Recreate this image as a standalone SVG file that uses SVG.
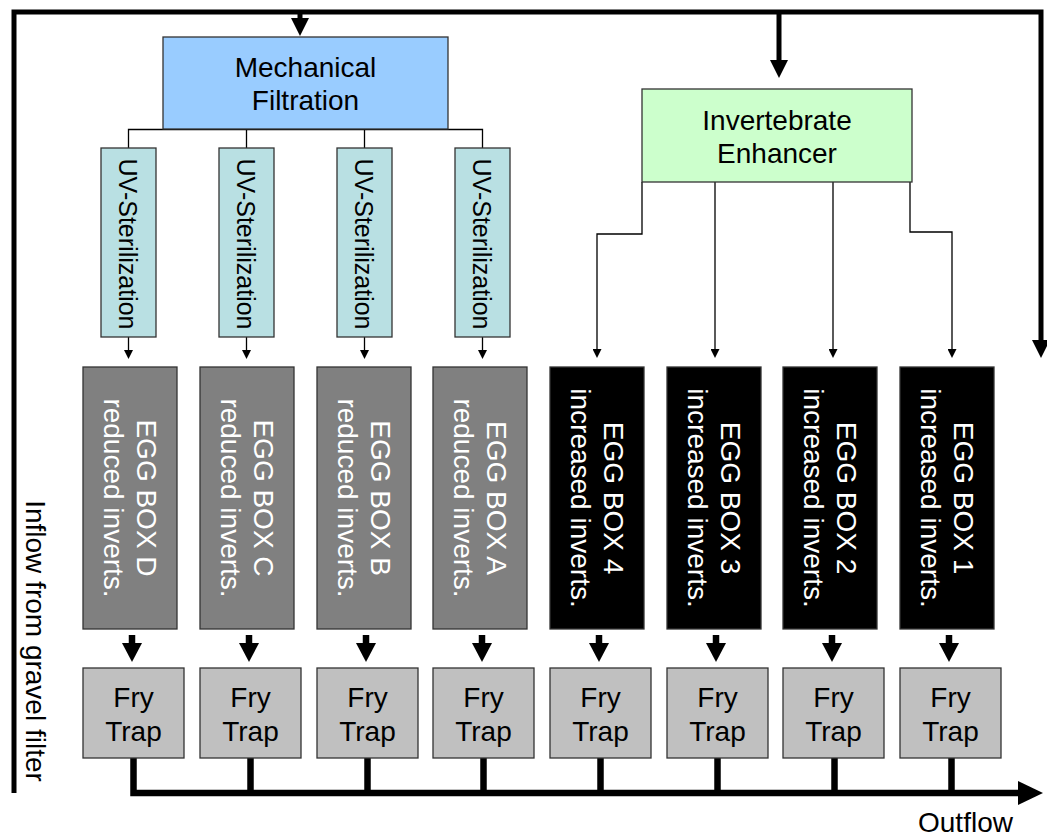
<svg xmlns="http://www.w3.org/2000/svg" width="1047" height="837" viewBox="0 0 1047 837">
<style>
text{font-family:"Liberation Sans",Arial,Helvetica,sans-serif;font-size:28px;fill:#000}
.c{text-anchor:middle}
.w{fill:#fff}
.uvt{font-size:25px}
.mech{fill:#99CCFF;stroke:#333;stroke-width:1.3}
.inv{fill:#CCFFCC;stroke:#333;stroke-width:1.3}
.uv{fill:#B9E0E3;stroke:#333;stroke-width:1.3}
.eggr{fill:#808080;stroke:#333;stroke-width:1.3}
.eggi{fill:#000;stroke:#333;stroke-width:1.3}
.fry{fill:#C0C0C0;stroke:#333;stroke-width:1.3}
.thin{fill:none;stroke:#000;stroke-width:1.3}
.frame{fill:none;stroke:#000;stroke-width:5;stroke-linejoin:miter}
.fat{fill:none;stroke:#000;stroke-width:6.5}
</style>
<defs>
<marker id="ah-thin" markerUnits="userSpaceOnUse" markerWidth="9" markerHeight="9" refX="0" refY="4.5" orient="auto"><path d="M0,0 L9,4.5 L0,9 z" fill="#000"/></marker>
<marker id="ah-big" markerUnits="userSpaceOnUse" markerWidth="18" markerHeight="18" refX="0" refY="9" orient="auto"><path d="M0,0 L18,9 L0,18 z" fill="#000"/></marker>
<marker id="ah-fat" markerUnits="userSpaceOnUse" markerWidth="19" markerHeight="20" refX="0" refY="10" orient="auto"><path d="M0,0 L19,10 L0,20 z" fill="#000"/></marker>
<marker id="ah-out" markerUnits="userSpaceOnUse" markerWidth="25" markerHeight="24" refX="0" refY="12" orient="auto"><path d="M0,0 L25,12 L0,24 z" fill="#000"/></marker>
</defs>

<g id="connectors">
<path class="frame" d="M14,793 V12 H1041 V340" marker-end="url(#ah-big)"/>
<path class="frame" d="M300,12 V18" marker-end="url(#ah-big)"/>
<path class="frame" d="M779,12 V60" marker-end="url(#ah-big)"/>
<path class="thin" d="M128.5,148 V129.5 H482.5 V148"/>
<path class="thin" d="M246.5,129.5 V148"/>
<path class="thin" d="M364.5,129.5 V148"/>
<path class="thin" d="M128.5,337 V350" marker-end="url(#ah-thin)"/>
<path class="thin" d="M246.5,337 V350" marker-end="url(#ah-thin)"/>
<path class="thin" d="M364.5,337 V350" marker-end="url(#ah-thin)"/>
<path class="thin" d="M482.5,337 V350" marker-end="url(#ah-thin)"/>
<path class="thin" d="M642,182 V234 H597 V349" marker-end="url(#ah-thin)"/>
<path class="thin" d="M715,182 V349" marker-end="url(#ah-thin)"/>
<path class="thin" d="M833,182 V349" marker-end="url(#ah-thin)"/>
<path class="thin" d="M910,182 V232 H952 V349" marker-end="url(#ah-thin)"/>
<path class="fat" d="M132,635 V643" marker-end="url(#ah-fat)"/>
<path class="fat" d="M249,635 V643" marker-end="url(#ah-fat)"/>
<path class="fat" d="M366,635 V643" marker-end="url(#ah-fat)"/>
<path class="fat" d="M482,635 V643" marker-end="url(#ah-fat)"/>
<path class="fat" d="M599,635 V643" marker-end="url(#ah-fat)"/>
<path class="fat" d="M716,635 V643" marker-end="url(#ah-fat)"/>
<path class="fat" d="M832,635 V643" marker-end="url(#ah-fat)"/>
<path class="fat" d="M949,635 V643" marker-end="url(#ah-fat)"/>
<path class="fat" d="M133.5,758 V793 H1018" stroke-linejoin="miter" marker-end="url(#ah-out)"/>
<path class="fat" d="M250.5,758 V793"/>
<path class="fat" d="M367.5,758 V793"/>
<path class="fat" d="M483.5,758 V793"/>
<path class="fat" d="M600.5,758 V793"/>
<path class="fat" d="M717.5,758 V793"/>
<path class="fat" d="M834.5,758 V793"/>
<path class="fat" d="M951.5,758 V793"/>
</g>

<g id="mech">
<rect class="mech" x="163" y="37" width="285" height="92"/>
<text class="c" x="305.5" y="77">Mechanical</text>
<text class="c" x="305.5" y="110">Filtration</text>
</g>
<g id="invert">
<rect class="inv" x="642" y="89" width="270" height="93"/>
<text class="c" x="777" y="130">Invertebrate</text>
<text class="c" x="777" y="163">Enhancer</text>
</g>

<g id="uv1"><rect class="uv" x="101" y="148" width="55" height="189"/><text class="c uvt" transform="translate(128.5,244) rotate(90)" y="9.5">UV-Sterilization</text></g>
<g id="uv2"><rect class="uv" x="219" y="148" width="55" height="189"/><text class="c uvt" transform="translate(246.5,244) rotate(90)" y="9.5">UV-Sterilization</text></g>
<g id="uv3"><rect class="uv" x="337" y="148" width="55" height="189"/><text class="c uvt" transform="translate(364.5,244) rotate(90)" y="9.5">UV-Sterilization</text></g>
<g id="uv4"><rect class="uv" x="455" y="148" width="55" height="189"/><text class="c uvt" transform="translate(482.5,244) rotate(90)" y="9.5">UV-Sterilization</text></g>

<g id="eggD"><rect class="eggr" x="83" y="367" width="94" height="262"/><g transform="translate(130,498) rotate(90)"><text class="c w" y="-7">EGG BOX D</text><text class="c w" y="26">reduced inverts.</text></g></g>
<g id="eggC"><rect class="eggr" x="200" y="367" width="94" height="262"/><g transform="translate(247,498) rotate(90)"><text class="c w" y="-7">EGG BOX C</text><text class="c w" y="26">reduced inverts.</text></g></g>
<g id="eggB"><rect class="eggr" x="317" y="367" width="94" height="262"/><g transform="translate(364,498) rotate(90)"><text class="c w" y="-7">EGG BOX B</text><text class="c w" y="26">reduced inverts.</text></g></g>
<g id="eggA"><rect class="eggr" x="433" y="367" width="94" height="262"/><g transform="translate(480,498) rotate(90)"><text class="c w" y="-7">EGG BOX A</text><text class="c w" y="26">reduced inverts.</text></g></g>
<g id="egg4"><rect class="eggi" x="550" y="367" width="94" height="262"/><g transform="translate(597,498) rotate(90)"><text class="c w" y="-7">EGG BOX 4</text><text class="c w" y="26">increased inverts.</text></g></g>
<g id="egg3"><rect class="eggi" x="667" y="367" width="94" height="262"/><g transform="translate(714,498) rotate(90)"><text class="c w" y="-7">EGG BOX 3</text><text class="c w" y="26">increased inverts.</text></g></g>
<g id="egg2"><rect class="eggi" x="783" y="367" width="94" height="262"/><g transform="translate(830,498) rotate(90)"><text class="c w" y="-7">EGG BOX 2</text><text class="c w" y="26">increased inverts.</text></g></g>
<g id="egg1"><rect class="eggi" x="900" y="367" width="94" height="262"/><g transform="translate(947,498) rotate(90)"><text class="c w" y="-7">EGG BOX 1</text><text class="c w" y="26">increased inverts.</text></g></g>

<g id="fryD"><rect class="fry" x="83" y="668" width="101" height="90"/><text class="c" x="133.5" y="707">Fry</text><text class="c" x="133.5" y="741">Trap</text></g>
<g id="fryC"><rect class="fry" x="200" y="668" width="101" height="90"/><text class="c" x="250.5" y="707">Fry</text><text class="c" x="250.5" y="741">Trap</text></g>
<g id="fryB"><rect class="fry" x="317" y="668" width="101" height="90"/><text class="c" x="367.5" y="707">Fry</text><text class="c" x="367.5" y="741">Trap</text></g>
<g id="fryA"><rect class="fry" x="433" y="668" width="101" height="90"/><text class="c" x="483.5" y="707">Fry</text><text class="c" x="483.5" y="741">Trap</text></g>
<g id="fry4"><rect class="fry" x="550" y="668" width="101" height="90"/><text class="c" x="600.5" y="707">Fry</text><text class="c" x="600.5" y="741">Trap</text></g>
<g id="fry3"><rect class="fry" x="667" y="668" width="101" height="90"/><text class="c" x="717.5" y="707">Fry</text><text class="c" x="717.5" y="741">Trap</text></g>
<g id="fry2"><rect class="fry" x="783" y="668" width="101" height="90"/><text class="c" x="833.5" y="707">Fry</text><text class="c" x="833.5" y="741">Trap</text></g>
<g id="fry1"><rect class="fry" x="900" y="668" width="101" height="90"/><text class="c" x="950.5" y="707">Fry</text><text class="c" x="950.5" y="741">Trap</text></g>

<g id="labels">
<text class="c" transform="translate(26,641) rotate(90)">Inflow from gravel filter</text>
<text x="918" y="832">Outflow</text>
</g>
</svg>
